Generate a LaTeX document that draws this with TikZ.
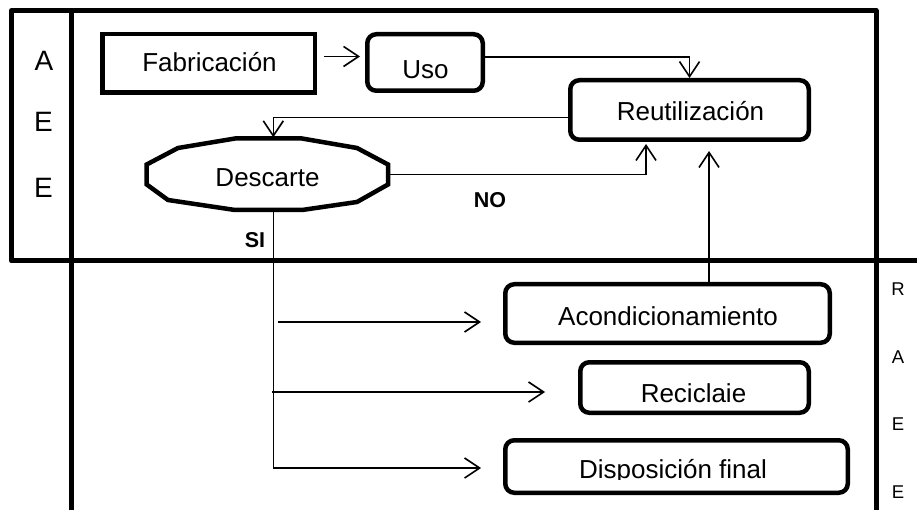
\documentclass[tikz,border=0pt]{standalone}
\usepackage{fontspec}
\setmainfont{Liberation Sans}
\usetikzlibrary{arrows.meta,calc}
\begin{document}
\begin{tikzpicture}[x=1pt,y=-1pt,
  frame/.style={line width=5pt, line join=round},
  sqbox/.style={draw, line width=4.5pt, inner sep=0pt},
  rbox/.style={sqbox, rounded corners=9pt},
  conn/.style={line width=1.6pt},
  arr/.style={conn, -{Straight Barb[length=15pt,width=20pt]}},
  lbl/.style={inner sep=0pt, anchor=base, font=\fontsize{26}{30}\selectfont},
  lane/.style={inner sep=0pt, anchor=base, font=\fontsize{28}{32}\selectfont},
  lanesmall/.style={inner sep=0pt, anchor=base, font=\fontsize{18.5}{22}\selectfont},
  tag/.style={inner sep=0pt, anchor=base, font=\bfseries\fontsize{21.5}{25}\selectfont},
]
\useasboundingbox (0,0) rectangle (917,510);

% swimlane frame
\draw[frame] (876,510) -- (876,10.5) -- (11.5,10.5) -- (11.5,261) -- (917,261);
\draw[frame] (71.5,10.5) -- (71.5,510);

% lane letters
\node[lane] (la1) at (44,71) {A};
\node[lane] (la2) at (43.5,131.5) {E};
\node[lane] (la3) at (43.5,198) {E};
\node[lanesmall] (lb1) at (898,295) {R};
\node[lanesmall] (lb2) at (898,363) {A};
\node[lanesmall] (lb3) at (898,430) {E};
\node[lanesmall] (lb4) at (898,498) {E};

% process boxes
\node[sqbox, minimum width=212.5pt, minimum height=58.5pt] (fab) at (208.5,63.5) {};
\node[rbox, minimum width=115.5pt, minimum height=56.5pt] (uso) at (425,62.5) {};
\node[rbox, minimum width=238.5pt, minimum height=59.5pt] (reu) at (689.5,110) {};
\node[rbox, minimum width=324.5pt, minimum height=58.5pt] (acon) at (667.5,313.5) {};
\node[rbox, minimum width=228.5pt, minimum height=50.5pt] (reci) at (694.5,387.5) {};
\node[rbox, minimum width=342.5pt, minimum height=52.5pt] (disp) at (676.5,466.5) {};

% decision shape (flattened twelve-sided outline)
\node[minimum width=241pt, minimum height=72pt, inner sep=0pt] (desc) at (267.3,174.5) {};
\draw[line width=4.5pt, line join=miter, shift={(desc.center)}]
  (-120.6,-10) -- (-120.6,10) -- (-99.3,25.5) -- (-32.3,35.5) -- (34.7,35.5)
  -- (89.7,27.5) -- (120.7,10) -- (120.7,-10) -- (89.7,-26.5) -- (34.7,-36)
  -- (-32.3,-36) -- (-89.3,-26.5) -- cycle;

% box texts
\node[lbl] (fabT) at ($(fab.center)+(1,8.5)$) {Fabricación};
\node[lbl] (usoT) at ($(uso.center)+(0.5,16.5)$) {Uso};
\node[lbl] (reuT) at ($(reu.center)+(1,11)$) {Reutilización};
\node[lbl] (descT) at ($(desc.center)+(0.2,12.5)$) {Descarte};
\node[lbl] (aconT) at ($(acon.center)+(0.5,11.5)$) {Acondicionamiento};
\node[lbl] (reciT) at ($(reci.center)+(-1,14.5)$) {Reciclaie};
\begin{scope}
  \clip (480,440) rectangle (870,479);
  \node[lbl] (dispT) at ($(disp.center)+(-3.5,11.5)$) {Disposición final};
\end{scope}

% decision tags
\node[tag] (si) at (255,248) {SI};
\node[tag] (no) at (490,208) {NO};

% connectors
\draw[arr] ($(fab.east)+(7,-7)$) -- ($(uso.west)+(-5,-6)$);
\draw[arr] ($(uso.east)+(0,-5.5)$) -| (reu.north);
\draw[arr] ($(reu.west)+(0,7.5)$) -| ($(desc.north)+(6,-1)$);
\draw[arr] (desc.east) -| ($(reu.south)+(-43.5,2)$);
\draw[arr] ($(acon.north)+(41.5,0)$) -- ($(reu.south)+(19.5,9)$);
\draw[arr] ($(desc.south)+(6,0)$) |- ($(disp.west)+(-22,1.5)$);
\coordinate (siA) at (278,322);
\coordinate (siB) at (272,392);
\draw[arr] (siA) -- ($(acon.west)+(-22,8.5)$);
\draw[arr] (siB) -- ($(reci.west)+(-33,4.5)$);
\end{tikzpicture}
\end{document}
